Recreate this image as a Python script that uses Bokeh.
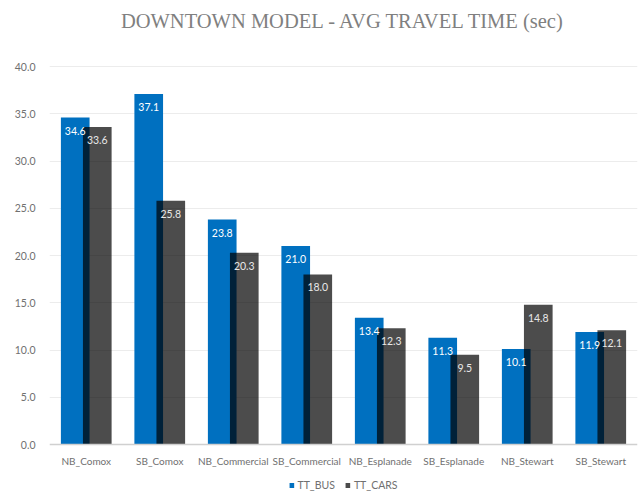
from bokeh.plotting import figure
from bokeh.models import (ColumnDataSource, FactorRange, Range1d, FixedTicker,
                          PrintfTickFormatter, Legend, LegendItem, Label)
from bokeh.transform import dodge
from bokeh.embed import file_html
from bokeh.resources import INLINE
from bokeh.core.properties import value

title_text = "DOWNTOWN MODEL - AVG TRAVEL TIME (sec)"
categories = ["NB_Comox", "SB_Comox", "NB_Commercial", "SB_Commercial",
              "NB_Esplanade", "SB_Esplanade", "NB_Stewart", "SB_Stewart"]
tt_bus = [34.6, 37.1, 23.8, 21.0, 13.4, 11.3, 10.1, 11.9]
tt_cars = [33.6, 25.8, 20.3, 18.0, 12.3, 9.5, 14.8, 12.1]
y_ticks = [0, 5, 10, 15, 20, 25, 30, 35, 40]

src = ColumnDataSource(dict(
    cat=categories, bus=tt_bus, cars=tt_cars,
    bus_lbl=[f"{v:.1f}" for v in tt_bus],
    cars_lbl=[f"{v:.1f}" for v in tt_cars],
))

W, H = 639, 491
# frame spans the full figure height; 40 -> 66 px, 0 -> 444 px
PX = 378 / 40.0
p = figure(width=W, height=H, output_backend="svg", toolbar_location=None,
           x_range=FactorRange(*categories, range_padding=0),
           y_range=Range1d(-(H - 444) / PX, 40 + 66 / PX),
           min_border_left=49, min_border_right=2, min_border_top=0,
           min_border_bottom=0)
p.outline_line_color = None
p.background_fill_color = "white"
p.border_fill_color = "white"

off = 0.15
w = 0.39
b1 = p.vbar(x=dodge("cat", -off, range=p.x_range), top="bus", width=w, source=src,
            fill_color="#0070C0", line_color=None)
b2 = p.vbar(x=dodge("cat", off, range=p.x_range), top="cars", width=w, source=src,
            fill_color="black", fill_alpha=0.7, line_color=None)

p.text(x=dodge("cat", -off, range=p.x_range), y="bus", text="bus_lbl", source=src,
       text_align="center", text_baseline="top", y_offset=9,
       text_font=value("Lato"), text_font_size="10.5px", text_color="white")
p.text(x=dodge("cat", off, range=p.x_range), y="cars", text="cars_lbl", source=src,
       text_align="center", text_baseline="top", y_offset=9,
       text_font=value("Lato"), text_font_size="10.5px", text_color="#e8e8e8")

title = Label(x=len(categories) / 2, y=40 + (66 - 20) / PX, text=title_text,
              text_align="center", text_baseline="middle",
              text_font="Liberation Serif", text_font_size="20.5px",
              text_color="#808080")
p.add_layout(title)

p.yaxis.ticker = FixedTicker(ticks=y_ticks)
p.yaxis.formatter = PrintfTickFormatter(format="%.1f")
p.yaxis.axis_line_color = None
p.yaxis.major_tick_line_color = None
p.yaxis.minor_tick_line_color = None
p.yaxis.major_label_text_font = "Lato"
p.yaxis.major_label_text_font_size = "10.5px"
p.yaxis.major_label_text_color = "#707070"
p.yaxis.major_label_standoff = 8

p.xaxis.fixed_location = 0
p.xaxis.axis_line_color = "#d0d0d0"
p.xaxis.axis_line_width = 1.5
p.xaxis.major_tick_line_color = None
p.xaxis.minor_tick_line_color = None
p.xaxis.major_label_text_font = "Lato"
p.xaxis.major_label_text_font_size = "10px"
p.xaxis.major_label_text_color = "#707070"
p.xaxis.major_label_standoff = 4

p.xgrid.grid_line_color = None
p.ygrid.grid_line_color = "#ececec"
p.ygrid.ticker = FixedTicker(ticks=y_ticks[1:])

legend = Legend(items=[LegendItem(label="TT_BUS", renderers=[b1]),
                       LegendItem(label="TT_CARS", renderers=[b2])],
                orientation="horizontal", location="bottom_center",
                label_text_font="Lato", label_text_font_size="10.5px",
                label_text_color="#707070", glyph_width=6, glyph_height=6,
                label_standoff=3, spacing=10, padding=1, margin=0,
                label_height=12,
                border_line_color=None, background_fill_alpha=0)
p.add_layout(legend, "center")

open("out.html", "w").write(file_html(p, INLINE))
